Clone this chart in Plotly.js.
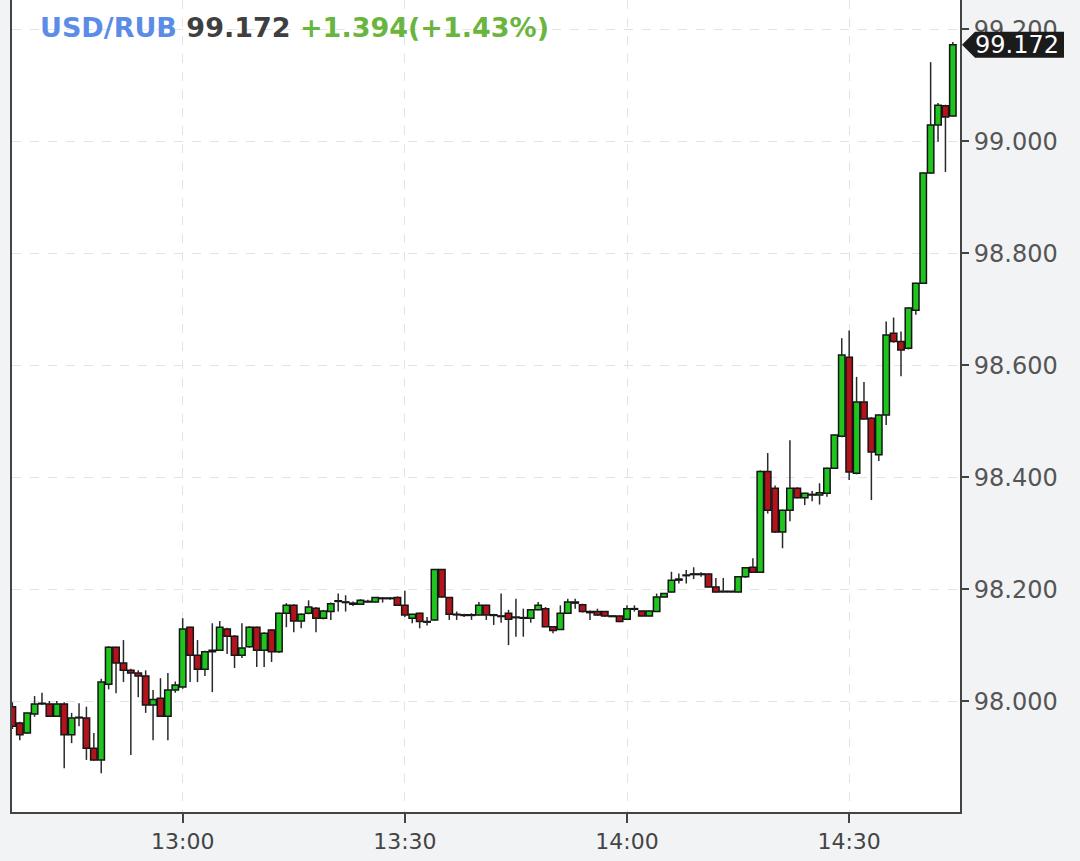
<!DOCTYPE html>
<html>
<head>
<meta charset="utf-8">
<script src="https://cdn.plot.ly/plotly-3.0.1.min.js"></script>
<style>
  html, body { margin: 0; padding: 0; background: #f2f3f5; }
  #chart { width: 1080px; height: 861px; }
</style>
</head>
<body>
<div id="chart"></div>
<script>
const day = '2023-08-14';
const times = [
 '12:37','12:38','12:39','12:40','12:41','12:42','12:43','12:44','12:45','12:46','12:47','12:48','12:49','12:50','12:51','12:52','12:53','12:54','12:55','12:56','12:57','12:58','12:59',
 '13:00','13:01','13:02','13:03','13:04','13:05','13:06','13:07','13:08','13:09','13:10','13:11','13:12','13:13','13:14','13:15','13:16','13:17','13:18','13:19',
 '13:20','13:21','13:22','13:23','13:24','13:25','13:26','13:27','13:28','13:29','13:30','13:31','13:32','13:33','13:34','13:35','13:36','13:37','13:38','13:39',
 '13:40','13:41','13:42','13:43','13:44','13:45','13:46','13:47','13:48','13:49','13:50','13:51','13:52','13:53','13:54','13:55','13:56','13:57','13:58','13:59',
 '14:00','14:01','14:02','14:03','14:04','14:05','14:06','14:07','14:08','14:09','14:10','14:11','14:12','14:13','14:14','14:15','14:16','14:17','14:18','14:19',
 '14:20','14:21','14:22','14:23','14:24','14:25','14:26','14:27','14:28','14:29','14:30','14:31','14:32','14:33','14:34','14:35','14:36','14:37','14:38','14:39',
 '14:40','14:41','14:42','14:43','14:44'
];
const openP = [
 97.990,97.961,97.943,97.977,97.995,97.995,97.973,97.995,97.940,97.970,97.970,97.916,97.895,98.030,98.096,98.068,98.055,98.050,98.045,97.993,98.005,97.973,98.020,
 98.025,98.132,98.082,98.057,98.088,98.091,98.129,98.116,98.082,98.097,98.132,98.091,98.127,98.088,98.157,98.171,98.143,98.157,98.166,98.148,
 98.160,98.178,98.177,98.175,98.173,98.178,98.177,98.184,98.183,98.185,98.171,98.148,98.157,98.142,98.145,98.235,98.185,98.155,98.154,98.153,
 98.154,98.171,98.154,98.152,98.157,98.150,98.149,98.148,98.163,98.165,98.133,98.128,98.157,98.177,98.172,98.160,98.160,98.160,98.152,98.152,
 98.146,98.165,98.161,98.152,98.160,98.186,98.195,98.216,98.224,98.226,98.227,98.227,98.204,98.195,98.195,98.195,98.222,98.239,98.230,98.410,
 98.380,98.302,98.341,98.380,98.363,98.369,98.368,98.371,98.416,98.473,98.614,98.407,98.534,98.505,98.440,98.511,98.657,98.642,98.630,98.698,
 98.746,98.943,99.029,99.063,99.045
];
const highP = [
 97.998,97.963,97.979,98.009,98.015,98.000,98.000,97.998,97.979,97.996,97.990,97.943,98.040,98.098,98.097,98.109,98.058,98.055,98.055,98.020,98.041,98.050,98.035,
 98.148,98.133,98.109,98.090,98.139,98.143,98.131,98.118,98.139,98.134,98.133,98.123,98.128,98.158,98.175,98.173,98.157,98.180,98.168,98.163,
 98.176,98.192,98.189,98.178,98.182,98.181,98.186,98.186,98.186,98.187,98.197,98.156,98.158,98.150,98.236,98.236,98.186,98.160,98.156,98.157,
 98.177,98.172,98.156,98.192,98.163,98.183,98.165,98.164,98.177,98.168,98.134,98.171,98.183,98.183,98.174,98.162,98.165,98.161,98.154,98.153,
 98.171,98.171,98.162,98.162,98.192,98.193,98.231,98.228,98.234,98.239,98.230,98.228,98.220,98.220,98.196,98.223,98.239,98.255,98.412,98.443,
 98.385,98.342,98.466,98.382,98.372,98.375,98.389,98.417,98.476,98.648,98.662,98.579,98.570,98.507,98.512,98.678,98.685,98.660,98.703,98.747,
 98.944,99.141,99.068,99.065,99.177
];
const lowP = [
 97.950,97.930,97.942,97.972,97.993,97.972,97.972,97.880,97.925,97.955,97.895,97.893,97.871,98.021,98.014,98.034,97.904,98.007,97.979,97.930,97.972,97.930,98.015,
 98.022,98.034,98.034,98.045,98.016,98.090,98.084,98.059,98.077,98.095,98.061,98.061,98.070,98.086,98.132,98.123,98.130,98.155,98.123,98.146,
 98.145,98.160,98.160,98.170,98.172,98.176,98.176,98.176,98.181,98.170,98.150,98.139,98.130,98.135,98.144,98.185,98.145,98.145,98.150,98.145,
 98.153,98.145,98.136,98.140,98.100,98.115,98.115,98.140,98.162,98.132,98.121,98.127,98.156,98.165,98.158,98.145,98.152,98.150,98.150,98.141,
 98.145,98.160,98.151,98.151,98.159,98.185,98.194,98.210,98.210,98.218,98.222,98.203,98.194,98.194,98.194,98.194,98.220,98.229,98.229,98.335,
 98.300,98.273,98.321,98.362,98.350,98.357,98.351,98.365,98.415,98.471,98.395,98.405,98.503,98.359,98.429,98.493,98.640,98.580,98.628,98.690,
 98.745,98.942,98.999,98.945,99.044
];
const closeP = [
 97.955,97.940,97.979,97.995,97.996,97.973,97.995,97.940,97.970,97.971,97.916,97.895,98.034,98.096,98.068,98.055,98.050,98.045,97.993,98.003,97.973,98.020,98.029,
 98.129,98.082,98.057,98.088,98.091,98.132,98.116,98.082,98.095,98.132,98.091,98.121,98.088,98.157,98.171,98.143,98.155,98.168,98.148,98.161,
 98.174,98.179,98.176,98.173,98.180,98.177,98.185,98.183,98.184,98.171,98.154,98.155,98.142,98.141,98.235,98.186,98.155,98.154,98.153,98.154,
 98.171,98.154,98.153,98.151,98.146,98.149,98.148,98.163,98.171,98.133,98.126,98.157,98.177,98.175,98.160,98.158,98.154,98.152,98.151,98.142,
 98.165,98.164,98.152,98.161,98.186,98.192,98.216,98.218,98.225,98.227,98.226,98.204,98.195,98.195,98.195,98.222,98.238,98.230,98.410,98.341,
 98.302,98.341,98.380,98.363,98.371,98.368,98.372,98.416,98.475,98.618,98.409,98.534,98.504,98.445,98.511,98.654,98.642,98.627,98.702,98.746,
 98.943,99.029,99.064,99.043,99.172
];
const symbol = 'USD/RUB';
const changeAbs = '+1.394';
const changePct = '(+1.43%)';
const yTicks = [98.0, 98.2, 98.4, 98.6, 98.8, 99.0, 99.2];
const xTicks = ['13:00', '13:30', '14:00', '14:30'];

const x = times.map(t => day + ' ' + t);
const last = closeP[closeP.length - 1];
const upColor = '#1fc41f', downColor = '#b3141c', edge = '#151515';

// candle bodies as bars (base = lower of open/close)
const bodyBase = openP.map((o, i) => Math.min(o, closeP[i]));
const bodyTop = openP.map((o, i) => Math.max(o, closeP[i]));
const bodyLen = openP.map((o, i) => Math.max(Math.abs(closeP[i] - o), 0.0012));
const bodyColor = openP.map((o, i) => closeP[i] >= o ? upColor : downColor);

// wicks: upper (top of body -> high) and lower (low -> bottom of body)
const wx = [], wy = [];
x.forEach((t, i) => {
  if (highP[i] > bodyTop[i]) { wx.push(t, t, null); wy.push(bodyTop[i], highP[i], null); }
  if (lowP[i] < bodyBase[i]) { wx.push(t, t, null); wy.push(lowP[i], bodyBase[i], null); }
});

const wicks = {
  type: 'scatter', mode: 'lines', x: wx, y: wy,
  line: { color: '#2a2a2a', width: 1.5 },
  hoverinfo: 'skip', connectgaps: false
};
const bodies = {
  type: 'bar', x: x, base: bodyBase, y: bodyLen,
  width: 52000,
  marker: { color: bodyColor, line: { color: edge, width: 1.5 } },
  hoverinfo: 'skip'
};

const fontFam = 'DejaVu Sans, Verdana, sans-serif';

const layout = {
  width: 1080, height: 861,
  margin: { l: 12, r: 120, t: 0, b: 49 },
  paper_bgcolor: '#f2f3f5',
  plot_bgcolor: '#ffffff',
  showlegend: false,
  hovermode: false,
  title: {
    text: '<span style="color:#5b8ce8">' + symbol + '</span> <span style="color:#3f3f3f">' + last.toFixed(3) +
          '</span> <span style="color:#6ab53e">' + changeAbs + changePct + '</span>',
    xref: 'container', yref: 'container',
    x: 40 / 1080, xanchor: 'left',
    y: 1 - 28 / 861, yanchor: 'middle',
    font: { family: fontFam, size: 27, weight: 'bold' }
  },
  xaxis: {
    type: 'date',
    range: [day + ' 12:36:57', day + ' 14:44:58'],
    tickmode: 'array',
    tickvals: xTicks.map(t => day + ' ' + t),
    ticktext: xTicks,
    ticks: 'outside', ticklen: 9, tickwidth: 2, tickcolor: '#444',
    showline: true, linecolor: '#444', linewidth: 2,
    showgrid: true, gridcolor: '#e3e3e3', gridwidth: 1, griddash: 'dash',
    zeroline: false,
    tickfont: { family: fontFam, size: 22, color: '#444' },
    fixedrange: true
  },
  yaxis: {
    side: 'right',
    range: [97.802, 99.252],
    tickmode: 'array',
    tickvals: yTicks,
    ticktext: yTicks.map(v => v.toFixed(3)),
    ticks: 'outside', ticklen: 7, tickwidth: 2, tickcolor: '#444',
    showline: true, linecolor: '#444', linewidth: 2, mirror: true,
    showgrid: true, gridcolor: '#e3e3e3', gridwidth: 1, griddash: 'dash',
    zeroline: false,
    tickfont: { family: fontFam, size: 24, color: '#555' },
    fixedrange: true
  },
  shapes: [{
    type: 'path', layer: 'above',
    xref: 'paper', xsizemode: 'pixel', xanchor: 1,
    yref: 'y', ysizemode: 'pixel', yanchor: last,
    path: 'M2,0 L15,13 L104,13 L104,-13 L15,-13 Z',
    fillcolor: '#1b1b1b', line: { width: 0 }
  }],
  annotations: [{
    xref: 'paper', x: 1, xanchor: 'left', xshift: 13,
    yref: 'y', y: last, yanchor: 'middle',
    text: last.toFixed(3), showarrow: false,
    font: { family: fontFam, size: 24, color: '#ffffff' }
  }]
};

Plotly.newPlot('chart', [wicks, bodies], layout, { displayModeBar: false, staticPlot: true });
</script>
</body>
</html>
